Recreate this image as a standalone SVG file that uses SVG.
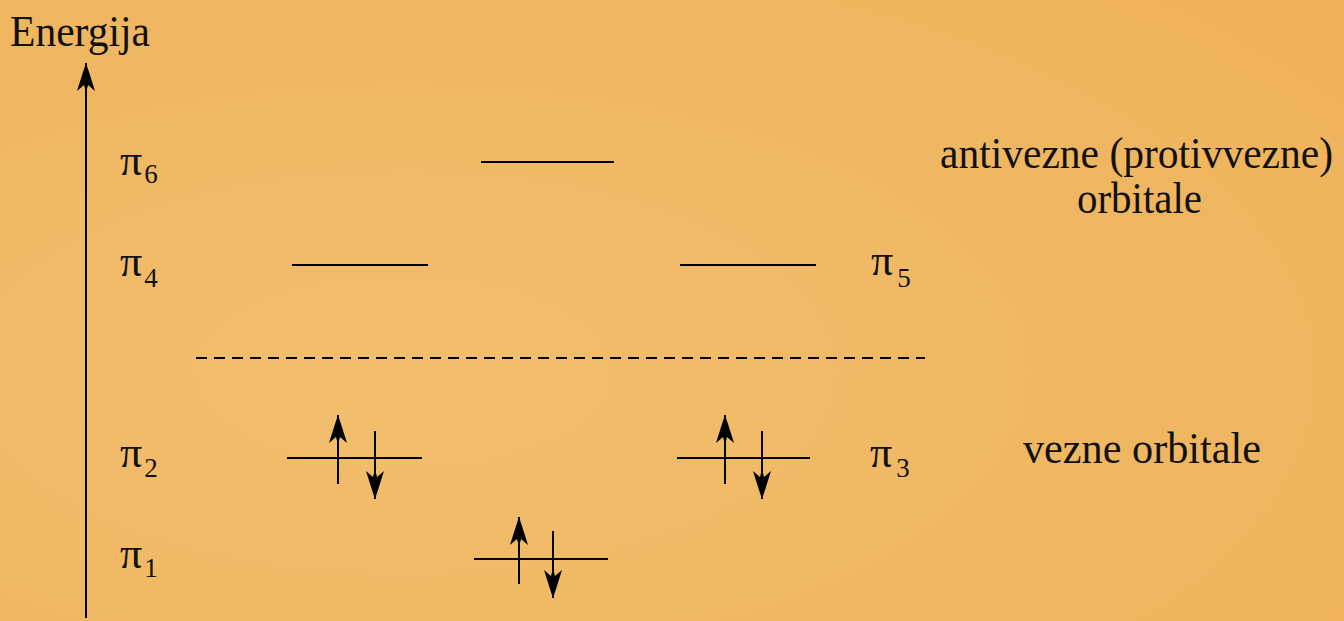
<svg xmlns="http://www.w3.org/2000/svg" width="1344" height="621" viewBox="0 0 1344 621">
<defs>
<radialGradient id="bg" cx="0.3" cy="0.6" r="0.9">
<stop offset="0" stop-color="#F2BE6E"/>
<stop offset="1" stop-color="#EEB25A"/>
</radialGradient>
<marker id="ah" viewBox="0 0 30 20" refX="30" refY="10" markerWidth="30" markerHeight="20" markerUnits="userSpaceOnUse" orient="auto">
<path d="M30 10 L21 13 L2 19 L8 12 L0 10 L8 8 L2 1 L21 7 Z" fill="#000"/>
</marker>
</defs>
<rect width="1344" height="621" fill="url(#bg)"/>

<g id="axis">
<text x="10" y="46" font-family="Liberation Serif" fill="#111" font-size="44" textLength="140" lengthAdjust="spacingAndGlyphs">Energija</text>
<line x1="86" y1="618" x2="86" y2="63" stroke="#000" stroke-width="2" marker-end="url(#ah)"/>
</g>

<g id="labels" font-family="Liberation Serif" fill="#111">
<text x="120" y="175" font-size="44">π<tspan font-size="27" dx="2" dy="8">6</tspan></text>
<text x="120" y="276" font-size="44">π<tspan font-size="27" dx="2" dy="11">4</tspan></text>
<text x="120" y="467" font-size="44">π<tspan font-size="27" dx="2" dy="10">2</tspan></text>
<text x="120" y="568" font-size="44">π<tspan font-size="27" dx="2" dy="9">1</tspan></text>
<text x="871" y="275" font-size="44">π<tspan font-size="27" dx="4" dy="12">5</tspan></text>
<text x="870" y="467" font-size="44">π<tspan font-size="27" dx="4" dy="10">3</tspan></text>
</g>

<g id="captions" font-family="Liberation Serif" fill="#111" font-size="44">
<text x="940" y="168" textLength="393" lengthAdjust="spacingAndGlyphs">antivezne (protivvezne)</text>
<text x="1077" y="213" textLength="125" lengthAdjust="spacingAndGlyphs">orbitale</text>
<text x="1023" y="463" textLength="238" lengthAdjust="spacingAndGlyphs">vezne orbitale</text>
</g>

<g id="levels" stroke="#000" stroke-width="2" fill="none">
<line x1="481" y1="162" x2="614" y2="162"/>
<line x1="292" y1="265" x2="428" y2="265"/>
<line x1="680" y1="265" x2="816" y2="265"/>
<line x1="196" y1="358" x2="925" y2="358" stroke-dasharray="11 7"/>
<line x1="287" y1="458" x2="422" y2="458"/>
<line x1="677" y1="458" x2="810" y2="458"/>
<line x1="474" y1="559" x2="608" y2="559"/>
</g>

<g id="electrons" stroke="#000" stroke-width="2" fill="none">
<line x1="338" y1="484" x2="338" y2="415" marker-end="url(#ah)"/>
<line x1="375" y1="431" x2="375" y2="499" marker-end="url(#ah)"/>
<line x1="725" y1="484" x2="725" y2="415" marker-end="url(#ah)"/>
<line x1="762" y1="431" x2="762" y2="499" marker-end="url(#ah)"/>
<line x1="519" y1="584" x2="519" y2="517" marker-end="url(#ah)"/>
<line x1="553" y1="531" x2="553" y2="598" marker-end="url(#ah)"/>
</g>
</svg>
